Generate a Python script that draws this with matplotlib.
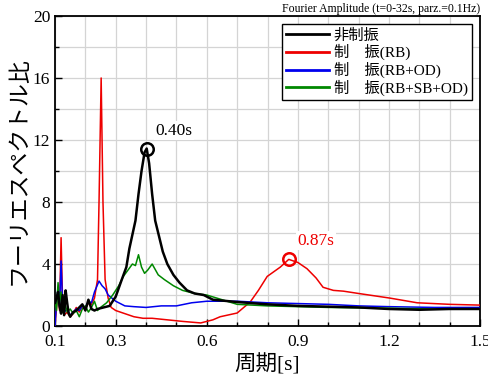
import numpy as np
import matplotlib
matplotlib.use("Agg")
import matplotlib.pyplot as plt

plt.rcParams['font.family'] = ['Liberation Serif', 'Noto Sans CJK JP']

# ---- data ----
# 非制振
black_t = [0.100, 0.105, 0.110, 0.115, 0.120, 0.125, 0.130, 0.135, 0.140, 0.145,
           0.150, 0.160, 0.170, 0.180, 0.190, 0.200, 0.210, 0.220, 0.230, 0.240,
           0.260, 0.280, 0.300, 0.320, 0.335, 0.345, 0.355, 0.365, 0.375, 0.385,
           0.395, 0.402, 0.410, 0.420, 0.430, 0.440, 0.455, 0.470, 0.490, 0.510,
           0.535, 0.560, 0.590, 0.620, 0.700, 0.800, 0.900, 1.000, 1.100, 1.200,
           1.300, 1.400, 1.500]
black_a = [1.5, 1.8, 2.2, 1.3, 0.8, 2.0, 0.7, 2.3, 1.5, 0.8,
           0.6, 0.9, 1.0, 1.2, 1.4, 1.0, 1.7, 1.1, 1.0, 1.1,
           1.2, 1.3, 1.9, 3.0, 3.8, 5.0, 5.9, 6.8, 8.5, 10.0,
           11.2, 11.45, 10.5, 8.5, 6.8, 6.0, 4.8, 4.0, 3.3, 2.8,
           2.3, 2.1, 2.0, 1.7, 1.55, 1.4, 1.3, 1.25, 1.2, 1.1,
           1.05, 1.1, 1.1]

# 制振(RB)
red_t = [0.100, 0.105, 0.110, 0.115, 0.120, 0.125, 0.130, 0.140, 0.150, 0.160,
         0.170, 0.180, 0.190, 0.200, 0.210, 0.220, 0.230, 0.240, 0.245, 0.252,
         0.258, 0.265, 0.275, 0.285, 0.300, 0.330, 0.360, 0.390, 0.420, 0.470,
         0.520, 0.580, 0.620, 0.644, 0.700, 0.743, 0.770, 0.799, 0.842, 0.870,
         0.900, 0.930, 0.960, 0.983, 1.017, 1.050, 1.100, 1.204, 1.293, 1.400,
         1.500]
red_a = [0.0, 1.2, 2.0, 1.0, 5.7, 1.5, 0.7, 0.9, 0.6, 0.8,
         1.2, 0.9, 1.3, 1.1, 1.5, 1.4, 1.8, 3.0, 8.0, 16.0,
         8.0, 3.0, 1.8, 1.2, 1.0, 0.8, 0.6, 0.5, 0.5, 0.4,
         0.3, 0.2, 0.4, 0.6, 0.84, 1.55, 2.3, 3.2, 3.8, 4.3,
         4.1, 3.7, 3.1, 2.5, 2.3, 2.25, 2.1, 1.8, 1.5, 1.4,
         1.35]

# 制振(RB+OD)
blue_t = [0.100, 0.105, 0.110, 0.115, 0.120, 0.125, 0.130, 0.140, 0.150, 0.160,
          0.170, 0.180, 0.190, 0.200, 0.210, 0.220, 0.230, 0.245, 0.255, 0.265,
          0.275, 0.300, 0.330, 0.360, 0.400, 0.450, 0.500, 0.550, 0.600, 0.700,
          0.800, 0.900, 1.000, 1.100, 1.200, 1.350, 1.500]
blue_a = [0.0, 1.5, 2.5, 1.2, 4.2, 1.3, 0.9, 1.1, 0.7, 0.9,
          1.1, 1.0, 1.3, 1.2, 1.6, 1.5, 2.2, 2.9, 2.6, 2.4,
          2.0, 1.6, 1.3, 1.25, 1.2, 1.3, 1.3, 1.5, 1.6, 1.6,
          1.5, 1.45, 1.4, 1.3, 1.25, 1.2, 1.2]

# 制振(RB+SB+OD)
green_t = [0.100, 0.105, 0.110, 0.115, 0.120, 0.125, 0.130, 0.140, 0.150, 0.160,
           0.170, 0.180, 0.190, 0.200, 0.210, 0.220, 0.230, 0.240, 0.250, 0.270,
           0.290, 0.310, 0.325, 0.340, 0.355, 0.365, 0.375, 0.385, 0.395, 0.405,
           0.420, 0.440, 0.460, 0.490, 0.520, 0.560, 0.600, 0.650, 0.700, 0.800,
           0.900, 1.000, 1.200, 1.350, 1.500]
green_a = [1.6, 1.0, 2.8, 1.5, 2.2, 0.9, 1.6, 0.9, 1.1, 0.8,
           1.0, 0.6, 1.1, 1.3, 0.9, 1.2, 1.6, 1.0, 1.2, 1.5,
           2.0, 2.6, 3.2, 3.6, 4.0, 3.9, 4.6, 3.8, 3.4, 3.6,
           4.0, 3.3, 3.0, 2.6, 2.3, 2.1, 2.0, 1.7, 1.4, 1.3,
           1.25, 1.2, 1.15, 1.1, 1.1]

peaks = [(0.402, 11.45, 'k', '0.40s', 0.43, 12.6),
         (0.870, 4.30, '#ee0000', '0.87s', 0.90, 5.5)]

labels = ['非制振', '制\u3000振(RB)', '制\u3000振(RB+OD)', '制\u3000振(RB+SB+OD)']

# ---- plot ----
fig = plt.figure(figsize=(4.89, 3.80), dpi=100)
ax = fig.add_axes([0.1125, 0.142, 0.8691, 0.816])

ax.plot(black_t, black_a, color='k', lw=1.8, label=labels[0], zorder=4)
ax.plot(red_t, red_a, color='#ee0000', lw=1.1, label=labels[1], zorder=3)
ax.plot(blue_t, blue_a, color='#0000ee', lw=1.1, label=labels[2], zorder=3)
ax.plot(green_t, green_a, color='#008800', lw=1.1, label=labels[3], zorder=3)

for px, py, c, txt, tx, ty in peaks:
    ax.plot(px, py, 'o', ms=9, mfc='none', mec=c, mew=1.8, zorder=5)
    ax.text(tx, ty, txt, color=c, fontsize=12.5, va='center', ha='left',
            bbox=dict(fc='white', ec='none', pad=1), zorder=5)

ax.set_xlim(0.1, 1.5)
ax.set_ylim(0, 20)
ax.set_xticks([0.1, 0.3, 0.6, 0.9, 1.2, 1.5])
ax.set_xticklabels(['0.1', '0.3', '0.6', '0.9', '1.2', '1.5'])
ax.set_xticks(np.arange(0.1, 1.51, 0.1), minor=True)
ax.set_yticks([0, 4, 8, 12, 16, 20])
ax.set_yticks(np.arange(0, 20.1, 2), minor=True)
ax.grid(True, which='both', color='#d4d4d4', lw=0.9, zorder=0)
ax.set_axisbelow(True)
ax.tick_params(which='both', direction='in', labelsize=12.5, top=False, right=False)
ax.tick_params(which='major', length=5, width=1)
ax.tick_params(which='minor', length=3, width=1)
ax.tick_params(axis='x', which='major', pad=6)
for s in ax.spines.values():
    s.set_linewidth(1.3)

ax.set_xlabel('周期[s]', fontsize=15.5, labelpad=3)
ax.set_ylabel('フーリエスペクトル比', fontsize=16.5, labelpad=2)
ax.set_title('Fourier Amplitude (t=0-32s, parz.=0.1Hz)', fontsize=8.5, loc='right', pad=3)

leg = ax.legend(loc='upper right', fontsize=11, frameon=True, fancybox=False,
                edgecolor='k', framealpha=1, borderpad=0.3, labelspacing=0.1,
                handlelength=2.8, handletextpad=0.3, borderaxespad=0.5)
leg.get_frame().set_linewidth(1.0)
for h in leg.get_lines():
    h.set_linewidth(2.0)

fig.savefig('out.png', dpi=100)
